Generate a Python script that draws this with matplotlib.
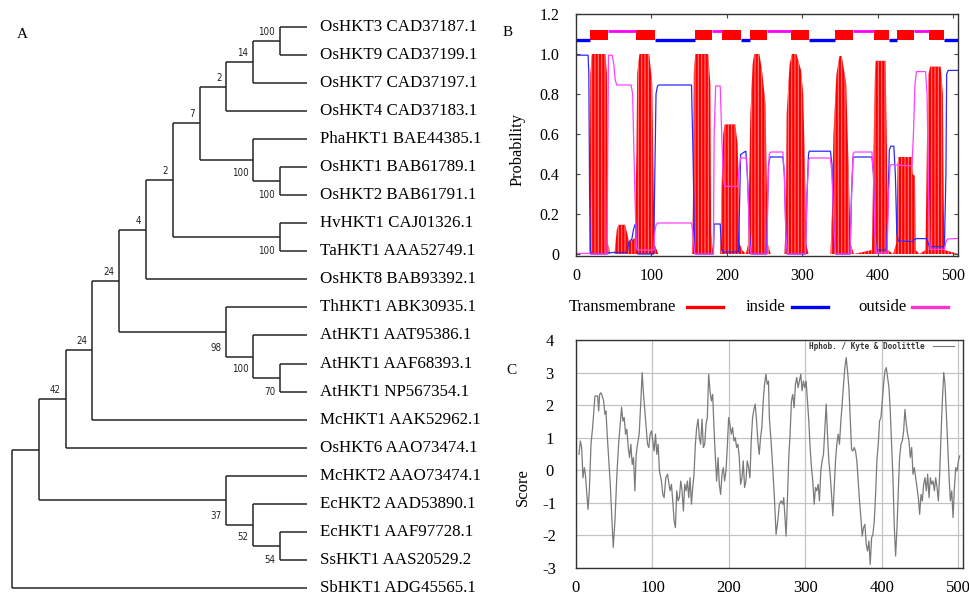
import matplotlib
matplotlib.use("Agg")
import matplotlib.pyplot as plt
from matplotlib.lines import Line2D

plt.rcParams['font.family'] = ['Liberation Serif', 'DejaVu Serif']
plt.rcParams['hatch.linewidth'] = 0.7

# ---------------- A: tree ----------------
tip_labels = [
    "OsHKT3 CAD37187.1", "OsHKT9 CAD37199.1", "OsHKT7 CAD37197.1", "OsHKT4 CAD37183.1",
    "PhaHKT1 BAE44385.1", "OsHKT1 BAB61789.1", "OsHKT2 BAB61791.1", "HvHKT1 CAJ01326.1",
    "TaHKT1 AAA52749.1", "OsHKT8 BAB93392.1", "ThHKT1 ABK30935.1", "AtHKT1 AAT95386.1",
    "AtHKT1 AAF68393.1", "AtHKT1 NP567354.1", "McHKT1 AAK52962.1", "OsHKT6 AAO73474.1",
    "McHKT2 AAO73474.1", "EcHKT2 AAD53890.1", "EcHKT1 AAF97728.1", "SsHKT1 AAS20529.2",
    "SbHKT1 ADG45565.1",
]
# internal nodes get ids 21, 22, ... in this order
node_children = [(0, 1), (21, 2), (22, 3), (5, 6), (4, 24), (23, 25), (7, 8), (26, 27),
                 (28, 9), (12, 13), (11, 30), (10, 31), (29, 32), (33, 14), (34, 15),
                 (18, 19), (17, 36), (16, 37), (35, 38), (39, 20)]
node_level = [10, 9, 8, 10, 9, 7, 10, 6, 5, 10, 9, 8, 4, 3, 2, 10, 9, 8, 1, 0]
node_support = ['100', '14', '2', '100', '100', '7', '100', '2', '4', '70', '100', '98',
                '24', '24', '42', '54', '52', '37', '', '']
label_side = ['above', 'above', 'above', 'low', 'low', 'above', 'low', 'above', 'above',
              'low', 'low', 'low', 'above', 'above', 'above', 'low', 'low', 'low', '', '']
tip_level = 11

# ---------------- B: TMHMM ----------------
tm_x = [0, 18, 19, 21, 39, 41, 42, 44, 45,
        51, 54, 56, 65, 68, 70, 74, 78,
        80, 81, 84, 97, 101, 103, 104, 107, 109,
        154, 155, 156, 158, 175, 178, 179, 181, 183,
        191, 193, 195, 197, 211, 214, 216, 217, 220, 225,
        228, 230, 231, 234, 236, 243, 247, 251, 253, 254, 258,
        276, 278, 279, 283, 286, 292, 298, 301, 304, 305, 308,
        337, 339, 341, 345, 349, 352, 358, 362, 364, 368,
        392, 394, 396, 397, 410, 412, 413, 420,
        424, 426, 427, 445, 446, 449, 450, 455,
        463, 465, 467, 469, 483, 486, 487, 488, 506]
tm_y = [0, 0, 0.9, 1.0, 1.0, 0.9, 0.05, 0.03, 0,
        0, 0.12, 0.146, 0.146, 0.1, 0.06, 0.07, 0.08,
        0.5, 0.9, 1.0, 1.0, 0.85, 0.3, 0.05, 0.02, 0,
        0, 0.3, 0.9, 1.0, 1.0, 0.85, 0.1, 0.03, 0,
        0, 0.35, 0.6, 0.648, 0.648, 0.55, 0.3, 0.05, 0.02, 0,
        0.05, 0.5, 0.7, 0.95, 1.0, 1.0, 0.9, 0.75, 0.3, 0.05, 0,
        0, 0.15, 0.7, 0.95, 1.0, 1.0, 0.92, 0.8, 0.3, 0.05, 0,
        0, 0.2, 0.6, 0.9, 0.99, 0.99, 0.85, 0.3, 0.05, 0,
        0.02, 0.5, 0.9, 0.966, 0.966, 0.5, 0.02, 0,
        0.05, 0.45, 0.485, 0.485, 0.4, 0.39, 0.02, 0,
        0.02, 0.6, 0.9, 0.937, 0.937, 0.8, 0.3, 0.02, 0]

inside_x = [0, 16, 17, 18, 19, 20, 41, 42, 50, 68, 70, 74, 76, 78, 79, 80, 82,
            103, 104, 106, 108, 110, 153, 155, 157, 158, 182, 183, 191, 193, 195, 215,
            217, 218, 223, 225, 226, 227, 230, 232, 252, 253, 255, 257, 274, 276, 278, 280,
            304, 306, 308, 309, 337, 339, 342, 344, 363, 365, 367, 392, 394, 396, 398,
            411, 413, 415, 417, 421, 423, 425, 427, 446, 449, 452, 464, 466, 468,
            488, 490, 491, 493, 506]
inside_y = [0.994, 0.994, 0.9, 0.3, 0.02, 0, 0, 0.005, 0.008, 0.008, 0.06, 0.075, 0.12, 0.146, 0.146, 0.05, 0,
            0, 0.3, 0.8, 0.84, 0.845, 0.845, 0.5, 0.05, 0, 0, 0.15, 0.15, 0.02, 0.01, 0.01,
            0.3, 0.497, 0.51, 0.514, 0.45, 0.4, 0.1, 0, 0, 0.1, 0.45, 0.485, 0.485, 0.4, 0.1, 0,
            0, 0.3, 0.5, 0.514, 0.514, 0.45, 0.1, 0, 0, 0.3, 0.485, 0.485, 0.4, 0.1, 0.02,
            0.02, 0.2, 0.52, 0.539, 0.539, 0.4, 0.1, 0.065, 0.062, 0.075, 0.077, 0.077, 0.06, 0.037,
            0.037, 0.4, 0.9, 0.918, 0.918]

outside_x = [0, 18, 19, 41, 42, 43, 48, 50, 52, 54, 73, 75, 78, 80, 81, 103, 104, 106, 108,
             153, 155, 157, 158, 182, 183, 185, 191, 193, 195, 197, 214, 216, 218, 226, 228,
             230, 232, 253, 254, 256, 258, 274, 276, 278, 280, 304, 306, 308, 310, 337, 339,
             342, 344, 363, 365, 367, 369, 392, 394, 396, 398, 412, 414, 416, 418, 445, 447,
             449, 451, 463, 465, 467, 469, 488, 490, 492, 506]
outside_y = [0.003, 0.003, 0, 0, 0.5, 0.994, 0.994, 0.95, 0.87, 0.845, 0.845, 0.8, 0.3, 0.05, 0.02, 0.02, 0.1, 0.146, 0.155,
             0.155, 0.1, 0.01, 0, 0, 0.6, 0.84, 0.84, 0.6, 0.38, 0.338, 0.338, 0.42, 0.48, 0.48, 0.3,
             0.05, 0, 0, 0.3, 0.5, 0.51, 0.51, 0.4, 0.1, 0, 0, 0.3, 0.47, 0.48, 0.48, 0.4,
             0.1, 0, 0, 0.3, 0.5, 0.51, 0.51, 0.4, 0.1, 0.005, 0.005, 0.3, 0.44, 0.447, 0.44, 0.6,
             0.85, 0.912, 0.912, 0.8, 0.3, 0.023, 0.023, 0.06, 0.075, 0.078]

topo_start = [0, 19, 42, 80, 104, 157, 180, 194, 218, 230, 253, 285, 308, 343, 367, 395, 414, 425, 448, 468, 488]
topo_end = [19, 42, 80, 104, 157, 180, 194, 218, 230, 253, 285, 308, 343, 367, 395, 414, 425, 448, 468, 488, 506]
topo_kind = ['in', 'TM', 'out', 'TM', 'in', 'TM', 'out', 'TM', 'in', 'TM', 'out',
             'TM', 'in', 'TM', 'out', 'TM', 'in', 'TM', 'out', 'TM', 'in']

# ---------------- C: Kyte & Doolittle ----------------
hyd_x = [3.9, 5.7, 7.4, 9.1, 10.9, 12.2, 13.9, 15.7, 17.4, 19.6, 21.7, 24.8, 28.3, 29.6, 30.9,
         32.6, 34.3, 36.1, 37.8, 39.1, 41.3, 44.8, 47.0, 48.7, 50.9, 53.5, 55.7, 57.4, 59.6,
         61.3, 63.0, 64.8, 66.5, 68.3, 70.0, 71.7, 73.5, 75.2, 77.0, 78.7, 80.4, 82.6, 84.8,
         86.5, 88.3, 90.0, 91.7, 93.5, 95.2, 97.0, 98.7, 100.4, 102.2, 103.9, 105.7, 107.4,
         109.1, 111.7, 113.5, 115.2, 117.4, 119.6, 121.3, 123.0, 124.8, 126.5, 128.3, 130.0,
         131.7, 133.5, 135.2, 137.0, 138.7, 140.4, 142.2, 143.9, 145.7, 147.4, 149.1, 150.9,
         152.6, 154.3, 156.1, 157.8, 159.6, 161.3, 163.0, 164.8, 166.5, 168.3, 170.0, 171.7,
         173.5, 175.2, 177.0, 178.7, 180.4, 182.2, 183.9, 185.7, 187.4, 189.1, 190.9, 192.6,
         194.3, 196.1, 197.8, 199.6, 201.3, 203.0, 204.8, 206.5, 208.3, 210.0, 211.7, 213.5,
         215.2, 217.0, 218.7, 220.4, 222.2, 223.9, 225.7, 227.4, 229.1, 230.9, 232.6, 234.3,
         236.1, 237.8, 239.6, 241.3, 243.0, 244.8, 246.5, 248.3, 250.0, 251.7, 252.8, 255.0,
         257.2, 259.4, 261.6, 263.8, 265.9, 268.1, 270.3, 271.6, 272.9, 274.7, 276.4, 278.2,
         279.9, 281.7, 283.4, 285.2, 286.9, 288.6, 290.4, 292.1, 293.9, 295.6, 297.4, 299.1,
         300.9, 302.6, 304.4, 306.1, 307.9, 309.6, 311.4, 313.1, 314.8, 316.6, 318.3, 320.1,
         321.8, 323.6, 325.3, 327.1, 328.8, 330.6, 332.3, 334.1, 335.8, 337.6, 339.3, 341.0,
         342.8, 344.5, 346.3, 348.0, 349.8, 351.5, 353.3, 355.0, 356.8, 358.5, 360.3, 362.0,
         363.8, 365.5, 367.2, 369.0, 370.7, 372.5, 374.2, 376.0, 377.7, 379.5, 381.2, 383.0,
         384.7, 386.5, 388.2, 390.0, 391.7, 393.4, 395.2, 396.9, 398.7, 400.4, 402.2, 403.9,
         405.7, 407.4, 409.2, 410.9, 412.7, 414.4, 416.2, 417.9, 419.7, 421.4, 423.1, 424.9,
         426.6, 428.4, 430.1, 431.9, 433.6, 435.4, 437.1, 438.9, 440.6, 442.4, 444.1, 445.9,
         447.6, 449.3, 451.1, 452.8, 454.6, 456.3, 458.1, 459.8, 461.6, 463.3, 465.1, 466.8,
         468.6, 470.3, 472.1, 473.8, 475.5, 477.3, 479.0, 480.8, 482.5, 484.3, 486.0, 487.8,
         489.5, 491.3, 493.0, 494.8, 496.5, 498.3, 500.0, 501.7]
hyd_y = [0.49, 0.90, 0.70, -0.23, 0.08, -0.12, -0.63, -1.20, -0.63, 0.80, 1.31, 2.28, 2.28, 1.82, 2.33,
         2.38, 2.28, 2.13, 1.72, 1.82, 0.90, -0.43, -1.56, -2.37, -1.56, -0.12, 0.80, 1.31, 1.94,
         1.51, 1.62, 1.11, 1.26, 0.70, 0.39, 0.80, 0.18, 0.39, -0.63, 0.49, 0.80, 1.11, 2.13,
         3.00, 2.33, 1.82, 1.31, 0.80, 0.70, 1.11, 1.21, 0.90, 0.59, 1.11, 0.49, 0.80,
         -0.02, -0.33, -0.74, -0.84, -0.23, -0.12, -0.38, -0.63, -0.43, -0.94, -1.56, -1.76,
         -0.63, -0.94, -0.84, -0.33, -0.63, -1.25, -0.43, -0.63, -0.33, -0.84, -0.23, -1.04,
         -0.53, -0.12, 0.80, 1.31, 1.57, 1.00, 0.80, 1.57, 0.70, 0.80, 1.41, 1.62,
         2.95, 2.44, 2.13, 2.33, 1.31, 0.39, -0.33, 0.39, -0.43, -0.74, -0.12, 0.08,
         -0.33, -0.02, 0.70, 1.62, 1.41, 1.11, 1.31, 0.90, 1.00, 0.70, 0.80, 0.39,
         -0.43, -0.23, 0.29, -0.53, -0.33, 0.29, 0.08, -0.23, 0.90, 1.62, 1.87, 2.03,
         1.51, 0.90, 0.49, 1.00, 1.31, 2.13, 2.64, 2.95, 2.64, 2.74, 1.62, 0.90,
         0.08, -0.84, -1.97, -1.56, -1.04, -0.94, -1.04, -0.84, -1.35, -2.02, -0.94, 0.39,
         1.11, 2.13, 2.33, 1.92, 2.64, 2.85, 2.54, 2.74, 2.95, 2.44, 2.74, 2.54,
         2.74, 2.13, 1.51, 0.70, 0.08, -0.33, -1.04, -0.53, -0.63, -0.43, -0.94, -0.02,
         0.29, 0.49, 1.21, 2.03, 1.11, 0.29, -0.12, -0.74, -1.40, -0.53, 0.29, 0.80,
         1.11, 0.80, 1.51, 2.03, 2.64, 3.15, 3.46, 3.05, 2.54, 1.62, 0.64, 0.59,
         0.70, 0.59, 0.29, -0.33, -0.94, -1.45, -2.02, -1.76, -1.66, -2.27, -2.48, -2.17,
         -2.89, -2.07, -1.97, -1.56, -0.74, 0.29, 0.80, 1.51, 1.62, 2.13, 2.64, 3.05,
         3.15, 2.85, 2.54, 1.82, 0.80, -0.23, -1.76, -2.63, -1.76, -0.63, 0.39, 0.80,
         0.90, 1.21, 1.87, 1.41, 1.11, 0.90, 0.39, 0.70, -0.12, 0.08, -0.23, -0.53,
         -0.84, -1.35, -0.74, -0.94, -0.43, -0.23, -0.63, -0.12, -0.84, -0.23, -0.43, -0.33,
         -0.63, -0.23, -0.53, -0.94, -0.12, 1.11, 2.13, 3.00, 2.64, 1.72, 0.80, -0.23,
         -0.94, -0.63, -1.45, -0.53, 0.08, -0.02, 0.29, 0.44]

fig = plt.figure(figsize=(9.69, 5.96), dpi=100)

# ---- panel A ----
axA = fig.add_axes([0, 0, 490 / 969, 1])
axA.set_xlim(-0.45, 17.84)
axA.set_ylim(20.29, -0.963)
axA.axis('off')

n_tips = len(tip_labels)
xs = [tip_level] * n_tips
ys = list(range(n_tips))
for (a, b), lev in zip(node_children, node_level):
    xs.append(lev)
    ys.append((ys[a] + ys[b]) / 2)

line_kw = dict(color='#262626', lw=1.1, solid_capstyle='butt')
for k, (a, b) in enumerate(node_children):
    nid = n_tips + k
    nx = xs[nid]
    axA.plot([nx, nx], [ys[a], ys[b]], **line_kw)
    for c in (a, b):
        axA.plot([nx, xs[c]], [ys[c], ys[c]], **line_kw)
    sup = node_support[k]
    if not sup:
        continue
    if label_side[k] == 'above':
        anchor, off = (nx, ys[nid]), (-3.5, 6.5)
    else:
        low = a if ys[a] > ys[b] else b
        anchor = (nx, ys[low])
        off = (-3.5, 0) if low < n_tips else (-3.5, 6)
    axA.annotate(sup, anchor, xytext=off, textcoords='offset points', ha='right', va='center',
                 fontsize=7, family=['Liberation Sans Narrow', 'DejaVu Sans'],
                 fontstretch='condensed', color='#222222')

for i, name in enumerate(tip_labels):
    axA.annotate(name, (tip_level, i), xytext=(9.4, 0), textcoords='offset points',
                 ha='left', va='center', fontsize=12.2)

fig.text(22 / 969, 1 - 34 / 596, 'A', fontsize=11, ha='center', va='center')

# ---- panel B ----
axB = fig.add_axes([576 / 969, 1 - 256 / 596, 382 / 969, 242 / 596])
axB.set_xlim(0, 506)
axB.set_ylim(-0.01, 1.2)
axB.fill_between(tm_x, tm_y, 0, facecolor='#ff0000', edgecolor='#ff8c8c', hatch='|||||', linewidth=0)
axB.plot(inside_x, inside_y, color='#2a2aff', lw=0.9)
axB.plot(outside_x, outside_y, color='#ff40ff', lw=0.9)
for s, e, kind in zip(topo_start, topo_end, topo_kind):
    if kind == 'TM':
        axB.bar(s, 0.052, width=e - s, bottom=1.068, align='edge', color='#ff0000', lw=0)
    elif kind == 'in':
        axB.hlines(1.071, s, e, color='#0000ff', lw=2.4)
    else:
        axB.hlines(1.114, s, e, color='#ff00ff', lw=2.0)

axB.set_xticks(range(0, 501, 100))
axB.set_yticks([0, 0.2, 0.4, 0.6, 0.8, 1.0, 1.2])
axB.set_yticklabels(['0', '0.2', '0.4', '0.6', '0.8', '1.0', '1.2'])
axB.tick_params(direction='in', top=True, right=True, length=3, width=0.8,
                labelsize=11.5, color='#444444')
axB.tick_params(axis='y', pad=12)
axB.tick_params(axis='x', pad=9)
for sp in axB.spines.values():
    sp.set_color('#333333')
    sp.set_linewidth(1)

fig.text(517 / 969, 1 - 150 / 596, 'Probability', rotation=90, ha='center', va='center', fontsize=11.8)
fig.text(508 / 969, 1 - 33 / 596, 'B', fontsize=11, ha='center', va='center')

# legend under B
leg_y = 1 - 307 / 596
legend_items = [('Transmembrane', '#ff0000', 569, 687), ('inside', '#0000ff', 746, 792),
                ('outside', '#ff33cc', 858, 912)]
for text, col, tx, lx in legend_items:
    fig.text(tx / 969, leg_y, text, ha='left', va='center', fontsize=12)
    fig.add_artist(Line2D([lx / 969, (lx + 36) / 969], [leg_y, leg_y], color=col, lw=2.4,
                          transform=fig.transFigure))

# ---- panel C ----
axC = fig.add_axes([576 / 969, 1 - 568 / 596, 387 / 969, 228 / 596])
axC.set_xlim(0, 506)
axC.set_ylim(-3, 4)
axC.set_xticks(range(0, 501, 100))
axC.set_yticks(range(-3, 5))
axC.set_yticklabels(['-3', '-2', '-1', '0', '1', '2', '3', '4'])
axC.grid(True, color='#c4c4c4', lw=0.9)
axC.set_axisbelow(True)
axC.plot(hyd_x, hyd_y, color='#7a7a7a', lw=0.9)
axC.tick_params(length=0, labelsize=12)
axC.tick_params(axis='y', pad=19)
axC.tick_params(axis='x', pad=9)
for lbl in axC.get_yticklabels():
    lbl.set_ha('center')
for sp in axC.spines.values():
    sp.set_color('#333333')
    sp.set_linewidth(1)

axC.text(0.602, 0.972, 'Hphob. / Kyte & Doolittle', transform=axC.transAxes, ha='left', va='center',
         fontsize=5.6, family='DejaVu Sans Mono', fontweight='bold', color='#333333')
axC.add_line(Line2D([0.922, 0.977], [0.972, 0.972], color='#7a7a7a', lw=0.8, transform=axC.transAxes))

fig.text(523 / 969, 1 - 487 / 596, 'Score', rotation=90, ha='center', va='center', fontsize=12)
fig.text(511 / 969, 1 - 370 / 596, 'C', fontsize=11, ha='center', va='center')

fig.savefig('out.png', dpi=100)
